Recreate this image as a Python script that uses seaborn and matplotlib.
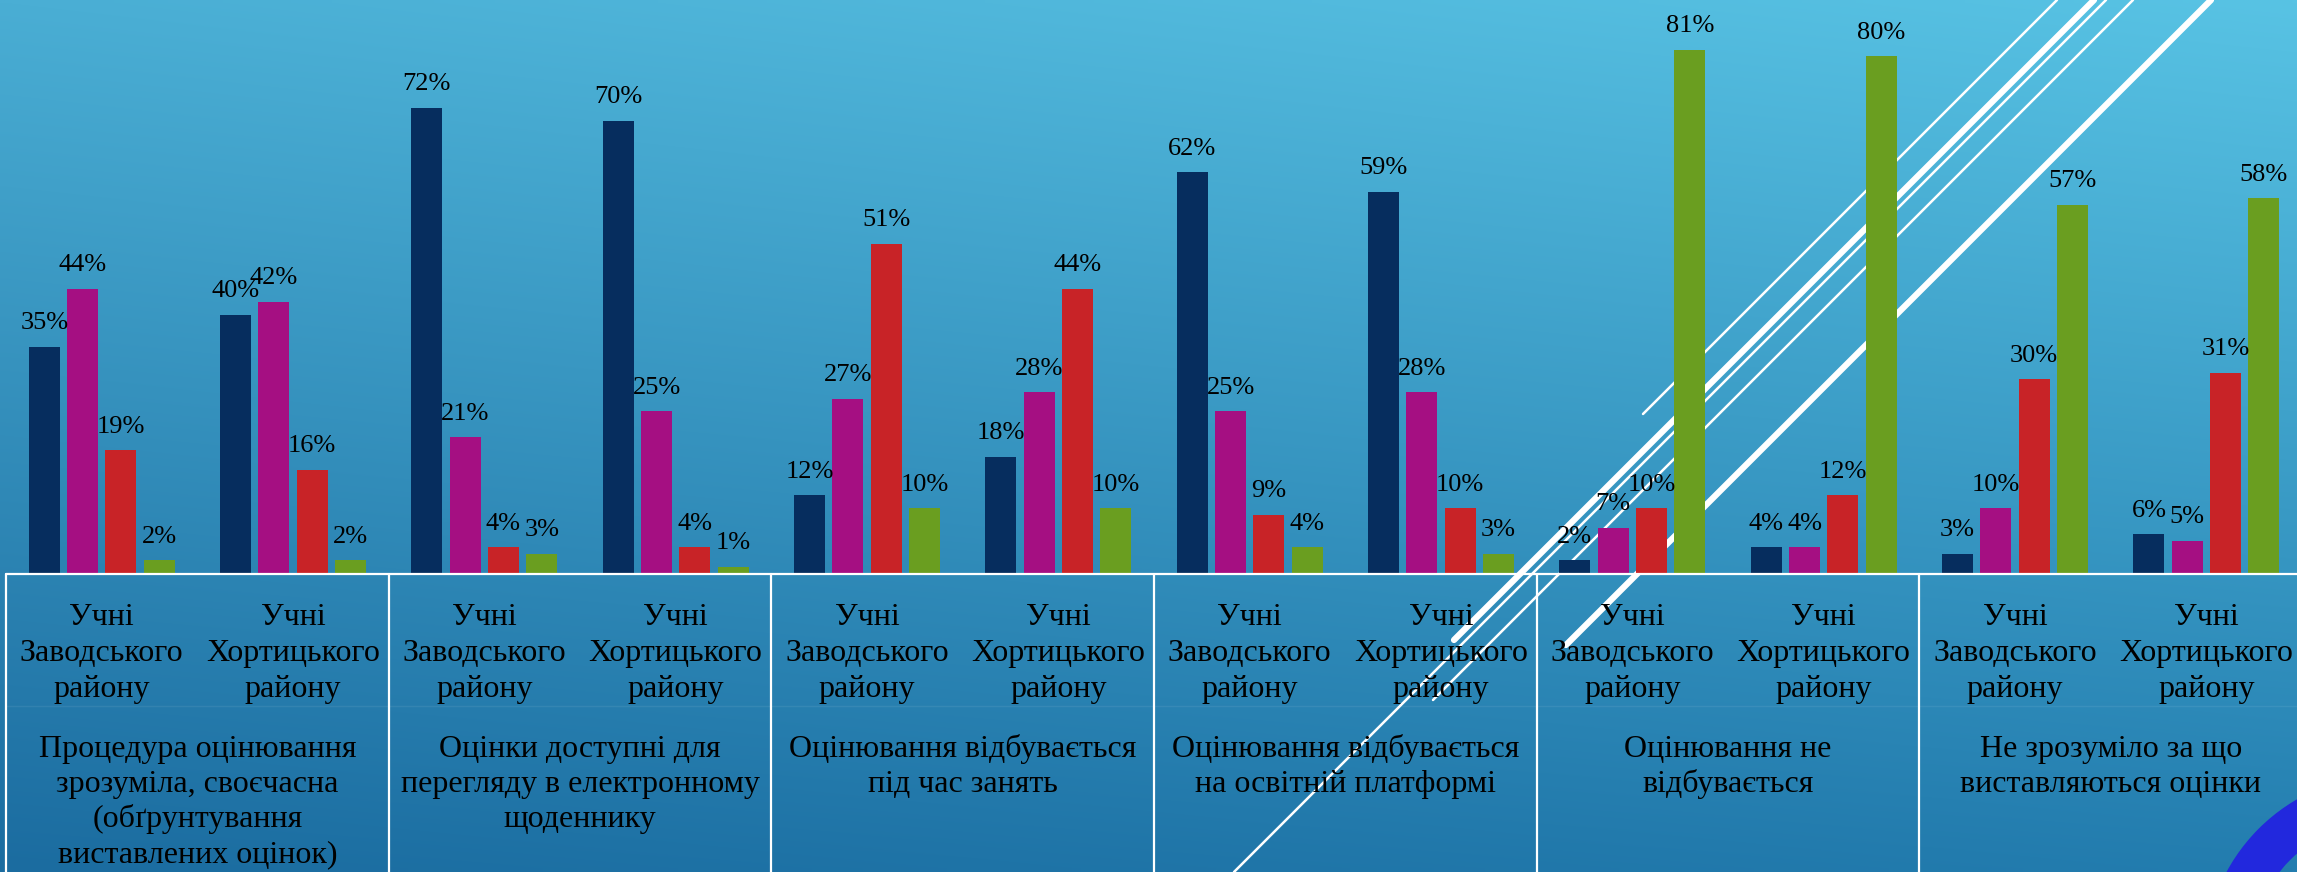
import matplotlib
matplotlib.use('Agg')
import matplotlib.pyplot as plt
import matplotlib.transforms as mtransforms
from matplotlib.lines import Line2D
from matplotlib.patches import Wedge
import numpy as np
import pandas as pd
import seaborn as sns

sns.set_theme(style='white')
plt.rcParams['font.family'] = ['Liberation Serif', 'DejaVu Serif']

CATEGORIES = [
    'Процедура оцінювання\nзрозуміла, своєчасна\n(обґрунтування\nвиставлених оцінок)',
    'Оцінки доступні для\nперегляду в електронному\nщоденнику',
    'Оцінювання відбувається\nпід час занять',
    'Оцінювання відбувається\nна освітній платформі',
    'Оцінювання не\nвідбувається',
    'Не зрозуміло за що\nвиставляються оцінки',
]
DISTRICTS = ['Учні\nЗаводського\nрайону', 'Учні\nХортицького\nрайону']

SERIES = ['s1', 's2', 's3', 's4']
SERIES_COLOURS = ['#062D5E', '#A50F82', '#C82327', '#6A9E20']

# values per series, in category order, Заводський then Хортицький
NAVY = [35, 40, 72, 70, 12, 18, 62, 59, 2, 4, 3, 6]
PURPLE = [44, 42, 21, 25, 27, 28, 25, 28, 7, 4, 10, 5]
RED = [19, 16, 4, 4, 51, 44, 9, 10, 10, 12, 30, 31]
GREEN = [2, 2, 3, 1, 10, 10, 4, 3, 81, 80, 57, 58]

W, H = 2297, 872

slots = ['{}-{}'.format(c, d) for c in range(len(CATEGORIES))
         for d in range(len(DISTRICTS))]
rows = []
for name, vals in zip(SERIES, [NAVY, PURPLE, RED, GREEN]):
    for slot, v in zip(slots, vals):
        rows.append({'slot': slot, 'series': name, 'value': v})
df = pd.DataFrame(rows)


def fy(py):
    # pixel row from the top -> figure fraction
    return 1 - py / H


fig = plt.figure(figsize=(W / 100, H / 100), dpi=100)

# slide background gradient
bg = fig.add_axes([0, 0, 1, 1], zorder=-10)
tl, tr = np.array([74, 174, 212]), np.array([88, 195, 228])
bl, br = np.array([27, 108, 160]), np.array([35, 125, 175])
t = np.linspace(0, 1, 120)[:, None, None]
s = np.linspace(0, 1, 240)[None, :, None]
grad = (1 - t) * ((1 - s) * tl + s * tr) + t * ((1 - s) * bl + s * br)
bg.imshow(grad / 255, aspect='auto', extent=[0, 1, 0, 1],
          interpolation='bilinear')
bg.axis('off')

# decorative diagonal strokes
for c, y_end, lw in [(2057, 414, 1.8), (2094, 640, 4.5), (2106, 872, 1.8),
                     (2133, 700, 1.8), (2211, 645, 4.5)]:
    fig.add_artist(Line2D([c / W, (c - y_end) / W], [fy(0), fy(y_end)],
                          color='white', lw=lw, zorder=-5,
                          solid_capstyle='round'))

ax = fig.add_axes([6 / W, (H - 573) / H, 2296 / W, 568.5 / H], zorder=0)
sns.barplot(data=df, x='slot', y='value', hue='series', order=slots,
            hue_order=SERIES, palette=SERIES_COLOURS, width=0.8, gap=0.19,
            saturation=1, legend=False, errorbar=None, linewidth=0, ax=ax)
ax.set_xlim(-0.5, len(slots) - 0.5)
ax.set_ylim(0, 88)
ax.axis('off')

for cont in ax.containers:
    ax.bar_label(cont, fmt='%g%%', padding=9, fontsize=19, color='black')

# table under the bars
trans = mtransforms.blended_transform_factory(ax.transData, fig.transFigure)
fig.add_artist(Line2D([-0.5, 11.5], [fy(574), fy(574)], transform=trans,
                      color='white', lw=1.6))
fig.add_artist(Line2D([-0.5, 11.5], [fy(706), fy(706)], transform=trans,
                      color='white', lw=1, alpha=0.07))
for xb in np.arange(-0.5, 12, 2):
    fig.add_artist(Line2D([xb, xb], [fy(574), 0], transform=trans,
                          color='white', lw=1.6))


def block(x, first_baseline, step, label):
    # one text per line so the baselines sit where the slide has them
    for j, line in enumerate(label.split('\n')):
        ax.text(x, fy(first_baseline + j * step), line, transform=trans,
                ha='center', va='baseline', fontsize=23, color='black')


for i in range(len(slots)):
    block(i, 625, 36, DISTRICTS[i % 2])
for k, cat in enumerate(CATEGORIES):
    block(2 * k + 0.5, 757, 35, cat)

# blue ring in the corner
fig.add_artist(Wedge((23.9, -0.88), 1.85, 0, 360, width=0.43,
                     transform=fig.dpi_scale_trans, color='#2228DD',
                     zorder=3))

plt.savefig('out.png', dpi=100)
plt.close('all')
